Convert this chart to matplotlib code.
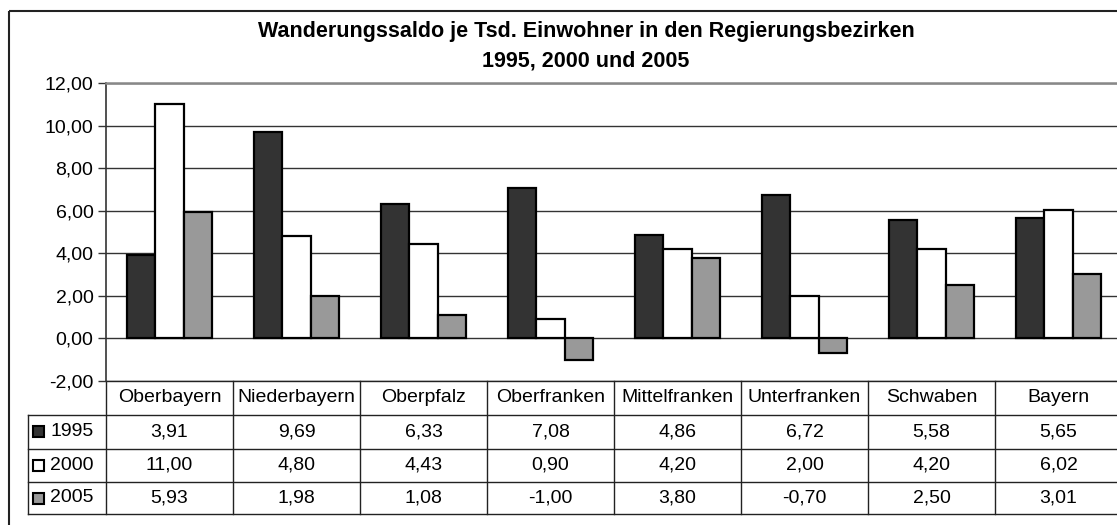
import matplotlib
matplotlib.use("Agg")
import matplotlib.pyplot as plt
from matplotlib.patches import Rectangle
from matplotlib.ticker import FuncFormatter, MultipleLocator
from matplotlib import transforms

plt.rcParams['font.family'] = ['Liberation Sans', 'DejaVu Sans']

categories = ["Oberbayern", "Niederbayern", "Oberpfalz", "Oberfranken",
              "Mittelfranken", "Unterfranken", "Schwaben", "Bayern"]
series_names = ["1995", "2000", "2005"]
v1995 = [3.91, 9.69, 6.33, 7.08, 4.86, 6.72, 5.58, 5.65]
v2000 = [11.00, 4.80, 4.43, 0.90, 4.20, 2.00, 4.20, 6.02]
v2005 = [5.93, 1.98, 1.08, -1.00, 3.80, -0.70, 2.50, 3.01]
series_values = [v1995, v2000, v2005]
colors = ["#333333", "#ffffff", "#999999"]
title_lines = ["Wanderungssaldo je Tsd. Einwohner in den Regierungsbezirken",
               "1995, 2000 und 2005"]

W, H = 1117, 525
fig = plt.figure(figsize=(W / 100, H / 100), dpi=100)

# overlay axes in pixel coordinates
ov = fig.add_axes([0, 0, 1, 1])
ov.set_xlim(0, W)
ov.set_ylim(H, 0)
ov.axis("off")
ov.patch.set_visible(False)

# plot area
ax_l, ax_r, ax_t, ax_b = 106, 1122, 83, 381
ax = fig.add_axes([ax_l / W, 1 - ax_b / H, (ax_r - ax_l) / W, (ax_b - ax_t) / H])
ax.patch.set_visible(False)
n = len(categories)
ax.set_xlim(0, n)
ax.set_ylim(-2, 12)
ax.yaxis.set_major_locator(MultipleLocator(2))
ax.yaxis.set_major_formatter(FuncFormatter(lambda v, p: f"{v:.2f}".replace(".", ",")))
ax.tick_params(axis="y", direction="out", length=6, width=1, color="#333333",
               labelsize=14, pad=3)
ax.set_xticks([])
for s in ["right", "bottom"]:
    ax.spines[s].set_visible(False)
ax.spines["top"].set_color("#888888")
ax.spines["top"].set_linewidth(1.8)
ax.spines["left"].set_color("#333333")
ax.spines["left"].set_linewidth(1.2)
ax.grid(axis="y", color="#333333", linewidth=1)
ax.set_axisbelow(True)

bw = 0.223
for k, (vals, col) in enumerate(zip(series_values, colors)):
    xs = [i + 0.5 + (k - 1) * bw for i in range(n)]
    ax.bar(xs, vals, width=bw, color=col, edgecolor="black", linewidth=1.6, zorder=3)

# title
ov.text(586, 32, title_lines[0], ha="center", va="center", fontsize=15.5, fontweight="bold")
ov.text(586, 61.5, title_lines[1], ha="center", va="center", fontsize=15.5, fontweight="bold")

# outer frame
ov.add_patch(Rectangle((8.5, 10.5), 1200, 600, fill=False, edgecolor="#222222", linewidth=1.5))

# data table
bt = transforms.blended_transform_factory(ax.transData, ov.transData)
row_edges = [381, 415, 448.7, 481.7, 514.3]
lc = "#222222"
ov.plot([ax_l, 1200], [row_edges[0]] * 2, color=lc, lw=1)
for y in row_edges[1:]:
    ov.plot([28, 1200], [y, y], color=lc, lw=1)
ov.plot([28, 28], [row_edges[1], row_edges[-1]], color=lc, lw=1)
for i in range(n + 1):
    ov.plot([i, i], [row_edges[0], row_edges[-1]], color=lc, lw=1, transform=bt)

# category labels
yc = (row_edges[0] + row_edges[1]) / 2
for i, c in enumerate(categories):
    ov.text(i + 0.5, yc, c, ha="center", va="center", fontsize=14, transform=bt)

# rows
for r, (name, vals, col) in enumerate(zip(series_names, series_values, colors)):
    y = (row_edges[r + 1] + row_edges[r + 2]) / 2
    ov.add_patch(Rectangle((33, y - 5.5), 11, 11, facecolor=col, edgecolor="black", linewidth=1.5))
    ov.text(50, y, name, ha="left", va="center", fontsize=14)
    for i, v in enumerate(vals):
        ov.text(i + 0.5, y, f"{v:.2f}".replace(".", ","), ha="center", va="center",
                fontsize=14, transform=bt)

fig.savefig("out.png", dpi=100)
